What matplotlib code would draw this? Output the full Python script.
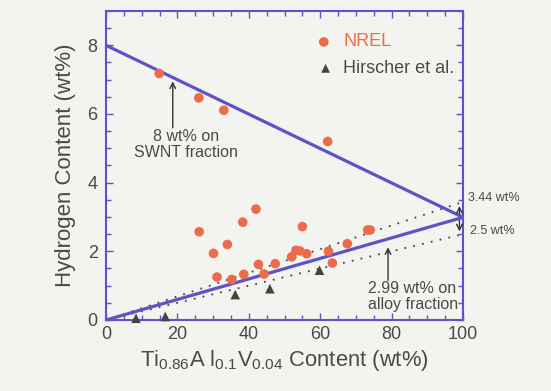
import matplotlib
matplotlib.use("Agg")
import matplotlib.pyplot as plt
from matplotlib.ticker import MultipleLocator

plt.rcParams['font.family'] = ['Liberation Sans', 'DejaVu Sans']
plt.rcParams['mathtext.fontset'] = 'custom'
plt.rcParams['mathtext.rm'] = 'Liberation Sans'
plt.rcParams['mathtext.it'] = 'Liberation Sans'

# NREL measurements: alloy content (wt%) vs hydrogen content (wt%)
nrel_x = [14.9, 26.0, 33.0, 62.1, 26.1, 30.1, 34.0, 31.1, 35.2, 38.6, 38.3,
          42.0, 42.7, 44.3, 47.4, 55.0, 52.0, 53.2, 54.3, 56.2, 62.3, 63.4,
          67.6, 73.3, 74.0]
nrel_y = [7.18, 6.47, 6.11, 5.20, 2.57, 1.94, 2.20, 1.25, 1.18, 1.33, 2.85,
          3.23, 1.62, 1.34, 1.64, 2.72, 1.84, 2.03, 2.01, 1.93, 2.00, 1.66,
          2.22, 2.62, 2.62]

# Hirscher et al. measurements
hirscher_x = [8.4, 16.6, 36.2, 45.9, 59.8]
hirscher_y = [0.05, 0.10, 0.74, 0.91, 1.45]

# Model lines
swnt_capacity = 8.0
alloy_capacity = 2.99
upper_fit = 3.44
lower_fit = 2.5

BLUE = '#5e53c6'
RED = '#ec6b4b'
DARK = '#444444'
TEXT = '#4a4a4a'

fig = plt.figure(figsize=(5.51, 3.91), dpi=100, facecolor='#f3f3ef')
ax = fig.add_axes([0.1924, 0.1816, 0.6479, 0.7903])
ax.set_facecolor('#f3f3ef')

ax.set_xlim(0, 100)
ax.set_ylim(0, 9)

# dotted fits through origin
ax.plot([0, 100], [0, upper_fit], linestyle=(0, (1, 4)), color=DARK, lw=1.3, zorder=2)
ax.plot([0, 100], [0, lower_fit], linestyle=(0, (1, 4)), color=DARK, lw=1.3, zorder=2)

# mixture lines
ax.plot([0, 100], [swnt_capacity, alloy_capacity], color=BLUE, lw=2.3, zorder=3,
        solid_capstyle='butt', clip_on=False)
ax.plot([0, 100], [0, alloy_capacity], color=BLUE, lw=2.3, zorder=3,
        solid_capstyle='butt', clip_on=False)

ax.scatter(nrel_x, nrel_y, s=48, color=RED, edgecolors='none', zorder=4)
ax.scatter(hirscher_x, hirscher_y, s=48, marker='^', color=DARK, edgecolors='none',
           zorder=4, clip_on=False)

# legend drawn as marks + text
ax.scatter([61], [8.1], s=48, color=RED, edgecolors='none')
ax.text(66.5, 8.1, 'NREL', color=RED, fontsize=13, va='center', ha='left')
ax.scatter([61.5], [7.33], s=40, marker='^', color=DARK, edgecolors='none')
ax.text(66.5, 7.33, 'Hirscher et al.', color=TEXT, fontsize=13, va='center', ha='left')

# annotations
ax.annotate('', xy=(18.7, 7.03), xytext=(18.7, 5.52),
            arrowprops=dict(arrowstyle='->', color='#333333', lw=1.0))
ax.text(22.4, 5.12, '8 wt% on\nSWNT fraction', color=TEXT, fontsize=11.5,
        ha='center', va='center', linespacing=1.05)

ax.annotate('', xy=(79, 2.2), xytext=(79, 1.07),
            arrowprops=dict(arrowstyle='->', color='#333333', lw=1.0))
ax.text(73.4, 0.68, '2.99 wt% on\nalloy fraction', color=TEXT, fontsize=11.5,
        ha='left', va='center', linespacing=1.05)

ax.annotate('', xy=(99, 3.4), xytext=(99, 2.99),
            arrowprops=dict(arrowstyle='->', color='#333333', lw=1.0))
ax.annotate('', xy=(99, 2.5), xytext=(99, 2.99),
            arrowprops=dict(arrowstyle='->', color='#333333', lw=1.0))
ax.text(101.4, 3.54, '3.44 wt%', color=TEXT, fontsize=9, ha='left', va='center',
        clip_on=False)
ax.text(102.0, 2.58, '2.5 wt%', color=TEXT, fontsize=9, ha='left', va='center',
        clip_on=False)

# axes styling
for sp in ax.spines.values():
    sp.set_color(BLUE)
    sp.set_linewidth(1.5)

ax.xaxis.set_major_locator(MultipleLocator(20))
ax.xaxis.set_minor_locator(MultipleLocator(5))
ax.yaxis.set_major_locator(MultipleLocator(2))
ax.yaxis.set_minor_locator(MultipleLocator(0.5))
ax.tick_params(which='both', direction='in', top=True, right=True, color=BLUE,
               labelcolor=TEXT, labelsize=13)
ax.tick_params(which='major', length=5, width=1.0)
ax.tick_params(which='minor', length=3.5, width=1.0)
ax.tick_params(axis='x', pad=4)
ax.tick_params(axis='y', pad=6)

ax.set_xlabel(r'Ti$_{0.86}$A l$_{0.1}$V$_{0.04}$ Content (wt%)', fontsize=15.8,
              color=TEXT, labelpad=4)
ax.set_ylabel('Hydrogen Content (wt%)', fontsize=16, color=TEXT, labelpad=8)

fig.savefig('out.png', dpi=100, facecolor=fig.get_facecolor())
